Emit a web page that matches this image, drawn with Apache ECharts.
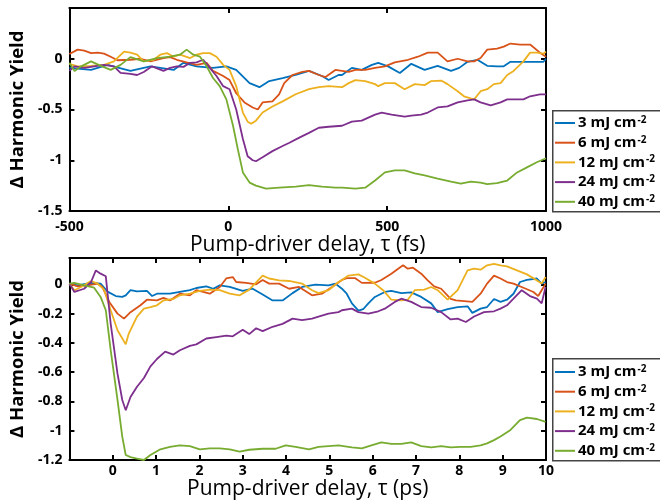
<!DOCTYPE html>
<html>
<head>
<meta charset="utf-8">
<script src="https://cdn.jsdelivr.net/npm/echarts@6/dist/echarts.min.js"></script>
<style>html,body{margin:0;padding:0;background:#fff}#c{width:660px;height:502px}</style>
</head>
<body>
<div id="c"></div>
<script>
// ---- Data ----
const seriesNames = ['3 mJ cm', '6 mJ cm', '12 mJ cm', '24 mJ cm', '40 mJ cm'];
const colors = ['#0072BD', '#D95319', '#EDB120', '#7E2F8E', '#77AC30'];
const fsTicks = [-500, 0, 500, 1000];
const psTicks = [0, 1, 2, 3, 4, 5, 6, 7, 8, 9, 10];

// Top panel: delay (fs), ΔYield
const fs3 = [[-500,-0.09],[-432,-0.11],[-380,-0.06],[-308,-0.12],[-245,-0.075],[-172,-0.11],[-141,-0.04],[-100,-0.075],[-48,-0.09],[-6,-0.075],[25,-0.11],[67,-0.24],[98,-0.28],[129,-0.22],[171,-0.19],[212,-0.16],[254,-0.12],[295,-0.17],[316,-0.21],[347,-0.16],[358,-0.16],[389,-0.09],[420,-0.11],[452,-0.06],[472,-0.04],[503,-0.075],[540,-0.14],[576,-0.05],[618,-0.11],[659,-0.07],[701,-0.12],[727,-0.09],[753,-0.03],[784,-0.01],[815,-0.07],[846,-0.075],[867,-0.075],[888,-0.03],[919,-0.03],[961,-0.03],[992,-0.03],[1000,0.0]];
const fs6 = [[-500,0.046],[-474,0.09],[-453,0.08],[-432,0.055],[-411,0.06],[-391,0.05],[-370,0.02],[-349,-0.015],[-308,-0.01],[-276,0.0],[-245,-0.026],[-204,0.007],[-183,0.016],[-162,-0.01],[-131,-0.036],[-100,-0.06],[-68,-0.04],[-48,-0.12],[-16,-0.17],[4,-0.21],[25,-0.34],[51,-0.43],[77,-0.48],[93,-0.5],[108,-0.43],[139,-0.42],[160,-0.35],[176,-0.24],[202,-0.16],[233,-0.13],[254,-0.12],[285,-0.16],[306,-0.18],[337,-0.11],[358,-0.12],[379,-0.13],[400,-0.11],[431,-0.11],[462,-0.09],[493,-0.075],[524,-0.036],[566,-0.01],[597,0.02],[628,0.06],[659,0.06],[690,-0.026],[722,0.0],[753,-0.026],[774,-0.026],[794,0.007],[815,0.09],[846,0.1],[867,0.12],[888,0.15],[919,0.14],[950,0.14],[981,0.06],[1000,0.02]];
const fs12 = [[-500,-0.05],[-474,-0.075],[-432,-0.07],[-391,-0.06],[-360,-0.026],[-328,0.07],[-308,0.06],[-287,0.04],[-266,-0.026],[-235,-0.01],[-214,0.04],[-193,0.055],[-172,0.02],[-152,0.04],[-120,0.007],[-100,0.04],[-79,0.055],[-58,0.055],[-37,0.02],[-16,-0.06],[4,-0.11],[25,-0.27],[46,-0.53],[61,-0.62],[72,-0.64],[87,-0.61],[108,-0.53],[139,-0.47],[171,-0.42],[212,-0.35],[254,-0.30],[285,-0.28],[316,-0.27],[358,-0.28],[379,-0.24],[400,-0.21],[431,-0.22],[462,-0.25],[472,-0.27],[493,-0.24],[524,-0.24],[545,-0.28],[555,-0.30],[587,-0.25],[618,-0.26],[639,-0.22],[670,-0.215],[690,-0.25],[722,-0.32],[742,-0.37],[763,-0.39],[774,-0.40],[794,-0.32],[815,-0.30],[836,-0.25],[857,-0.24],[878,-0.16],[898,-0.12],[929,-0.026],[950,0.06],[971,0.06],[992,0.05],[1000,0.07]];
const fs24 = [[-500,-0.12],[-484,-0.075],[-453,-0.09],[-422,-0.075],[-391,-0.06],[-360,-0.075],[-339,-0.14],[-308,-0.15],[-287,-0.16],[-266,-0.13],[-240,-0.075],[-204,-0.12],[-183,-0.09],[-162,-0.075],[-141,-0.08],[-120,-0.04],[-100,-0.036],[-79,-0.01],[-58,-0.09],[-37,-0.17],[-16,-0.27],[4,-0.30],[25,-0.5],[46,-0.79],[61,-0.96],[77,-1.0],[87,-1.01],[108,-0.97],[139,-0.91],[171,-0.86],[191,-0.83],[222,-0.78],[254,-0.73],[285,-0.68],[316,-0.67],[358,-0.66],[389,-0.62],[420,-0.61],[462,-0.55],[483,-0.53],[514,-0.55],[555,-0.57],[576,-0.56],[607,-0.55],[628,-0.53],[659,-0.48],[690,-0.47],[722,-0.43],[753,-0.41],[774,-0.40],[794,-0.43],[826,-0.46],[857,-0.43],[878,-0.40],[909,-0.40],[929,-0.40],[950,-0.37],[981,-0.35],[1000,-0.35]];
const fs40 = [[-500,-0.04],[-484,-0.12],[-463,-0.075],[-432,-0.026],[-401,-0.07],[-370,-0.11],[-339,-0.06],[-308,0.016],[-266,-0.026],[-224,0.007],[-183,0.02],[-152,0.04],[-131,0.09],[-110,0.04],[-89,0.02],[-68,-0.075],[-48,-0.19],[-27,-0.27],[-6,-0.40],[15,-0.66],[30,-0.89],[46,-1.12],[67,-1.22],[87,-1.25],[119,-1.28],[160,-1.27],[212,-1.26],[254,-1.245],[295,-1.26],[337,-1.27],[358,-1.27],[400,-1.28],[431,-1.27],[462,-1.20],[493,-1.12],[524,-1.10],[555,-1.10],[587,-1.13],[618,-1.15],[659,-1.18],[701,-1.21],[732,-1.23],[763,-1.21],[794,-1.22],[815,-1.235],[846,-1.225],[878,-1.20],[909,-1.12],[940,-1.07],[971,-1.02],[1000,-0.98]];

// Bottom panel: delay (ps), ΔYield
const ps3 = [[-1.0,0.005],[-0.81,-0.007],[-0.50,0.01],[-0.28,0.005],[-0.12,-0.05],[0.07,-0.08],[0.22,-0.086],[0.30,-0.075],[0.41,-0.04],[0.56,-0.048],[0.79,-0.045],[0.91,-0.08],[1.02,-0.064],[1.32,-0.064],[1.55,-0.052],[1.78,-0.04],[1.93,-0.025],[2.16,-0.014],[2.32,-0.03],[2.47,-0.007],[2.70,-0.018],[3.00,-0.045],[3.23,-0.03],[3.46,-0.07],[3.69,-0.11],[3.92,-0.11],[4.15,-0.06],[4.37,-0.018],[4.68,-0.002],[4.98,-0.007],[5.14,0.005],[5.29,-0.03],[5.40,-0.064],[5.52,-0.13],[5.67,-0.18],[5.78,-0.17],[5.90,-0.13],[6.05,-0.086],[6.28,-0.052],[6.43,-0.045],[6.66,-0.06],[6.89,-0.055],[7.12,-0.086],[7.35,-0.13],[7.50,-0.19],[7.73,-0.17],[7.96,-0.155],[8.19,-0.15],[8.30,-0.195],[8.49,-0.166],[8.64,-0.155],[8.80,-0.1],[8.95,-0.12],[9.10,-0.105],[9.25,-0.064],[9.40,0.016],[9.56,0.03],[9.79,0.04],[9.90,0.005],[9.99,0.016]];
const ps6 = [[-1.0,0.005],[-0.81,-0.014],[-0.58,-0.007],[-0.35,0.005],[-0.24,-0.018],[-0.08,-0.12],[0.11,-0.2],[0.26,-0.234],[0.41,-0.19],[0.64,-0.143],[0.79,-0.105],[1.02,-0.11],[1.17,-0.093],[1.32,-0.11],[1.55,-0.064],[1.78,-0.075],[1.93,-0.04],[2.24,-0.064],[2.47,-0.018],[2.62,0.04],[2.77,0.05],[2.85,0.016],[3.08,0.01],[3.31,0.0],[3.46,0.03],[3.61,0.005],[3.84,0.005],[4.07,-0.03],[4.30,-0.018],[4.60,-0.075],[4.83,-0.064],[5.06,-0.018],[5.29,0.03],[5.40,0.043],[5.59,0.043],[5.75,0.01],[6.05,0.011],[6.20,0.03],[6.43,0.073],[6.70,0.13],[6.81,0.107],[6.93,0.114],[7.12,0.073],[7.27,0.027],[7.42,-0.014],[7.58,-0.03],[7.80,-0.1],[7.92,-0.11],[8.11,-0.114],[8.30,-0.12],[8.49,-0.064],[8.64,0.005],[8.80,0.06],[8.95,0.04],[9.10,0.016],[9.25,0.005],[9.48,-0.023],[9.71,-0.052],[9.82,-0.08],[9.90,-0.04],[9.99,0.005]];
const ps12 = [[-1.0,0.005],[-0.885,-0.04],[-0.73,-0.018],[-0.50,0.023],[-0.35,0.005],[-0.20,-0.036],[-0.047,-0.177],[0.11,-0.314],[0.30,-0.41],[0.37,-0.336],[0.56,-0.22],[0.72,-0.166],[0.87,-0.155],[1.02,-0.143],[1.17,-0.11],[1.40,-0.1],[1.55,-0.075],[1.78,-0.064],[2.01,-0.045],[2.24,-0.036],[2.47,-0.04],[2.70,-0.064],[2.93,-0.075],[3.15,-0.036],[3.46,0.06],[3.61,0.04],[3.84,0.027],[4.07,0.023],[4.37,0.005],[4.60,-0.04],[4.75,-0.06],[4.98,-0.04],[5.21,0.016],[5.29,0.03],[5.44,0.06],[5.67,0.068],[5.82,0.045],[6.05,0.005],[6.24,-0.04],[6.43,-0.105],[6.66,-0.11],[6.81,-0.105],[6.97,-0.04],[7.19,-0.036],[7.35,-0.018],[7.50,-0.04],[7.73,-0.105],[7.96,-0.04],[8.19,0.095],[8.34,0.107],[8.49,0.1],[8.64,0.13],[8.80,0.14],[8.95,0.13],[9.10,0.123],[9.33,0.095],[9.56,0.068],[9.79,0.027],[9.90,0.005],[9.99,0.05]];
const ps24 = [[-1.0,0.005],[-0.885,-0.052],[-0.66,-0.03],[-0.50,0.016],[-0.39,0.095],[-0.28,0.073],[-0.16,0.055],[-0.047,-0.27],[0.11,-0.61],[0.22,-0.79],[0.30,-0.86],[0.41,-0.77],[0.56,-0.70],[0.72,-0.64],[0.87,-0.56],[1.02,-0.51],[1.21,-0.46],[1.40,-0.48],[1.55,-0.45],[1.78,-0.42],[1.93,-0.41],[2.16,-0.37],[2.39,-0.36],[2.62,-0.35],[2.77,-0.355],[3.00,-0.31],[3.15,-0.34],[3.31,-0.30],[3.46,-0.32],[3.69,-0.29],[3.92,-0.27],[4.15,-0.234],[4.37,-0.245],[4.60,-0.234],[4.75,-0.22],[4.98,-0.2],[5.21,-0.19],[5.29,-0.177],[5.52,-0.166],[5.67,-0.19],[5.90,-0.2],[6.13,-0.184],[6.28,-0.166],[6.51,-0.12],[6.66,-0.098],[6.89,-0.12],[7.12,-0.155],[7.35,-0.16],[7.58,-0.19],[7.80,-0.24],[7.96,-0.234],[8.15,-0.257],[8.34,-0.22],[8.57,-0.19],[8.80,-0.184],[8.95,-0.166],[9.10,-0.143],[9.25,-0.098],[9.44,-0.04],[9.63,-0.08],[9.79,-0.098],[9.90,-0.13],[9.99,-0.018]];
const ps40 = [[-1.0,0.005],[-0.885,0.01],[-0.66,-0.007],[-0.43,-0.023],[-0.28,-0.086],[-0.16,-0.177],[-0.047,-0.45],[0.11,-0.79],[0.22,-1.04],[0.30,-1.166],[0.41,-1.18],[0.56,-1.19],[0.72,-1.2],[0.87,-1.166],[1.10,-1.127],[1.32,-1.11],[1.55,-1.10],[1.78,-1.105],[2.01,-1.127],[2.24,-1.12],[2.47,-1.12],[2.70,-1.127],[2.93,-1.143],[3.15,-1.13],[3.46,-1.123],[3.76,-1.123],[3.99,-1.10],[4.22,-1.11],[4.53,-1.127],[4.75,-1.11],[4.98,-1.105],[5.21,-1.10],[5.52,-1.114],[5.75,-1.12],[5.97,-1.10],[6.20,-1.08],[6.43,-1.09],[6.66,-1.09],[6.89,-1.08],[7.12,-1.105],[7.35,-1.114],[7.58,-1.105],[7.80,-1.114],[8.03,-1.11],[8.26,-1.11],[8.49,-1.10],[8.64,-1.086],[8.80,-1.064],[8.95,-1.04],[9.18,-0.995],[9.40,-0.927],[9.56,-0.91],[9.79,-0.92],[9.99,-0.94]];

const topData = [fs3, fs6, fs12, fs24, fs40];
const botData = [ps3, ps6, ps12, ps24, ps40];

// ---- Chart ----
const FONT = 'Open Sans';
const lineBlack = { show: true, onZero: false, lineStyle: { color: '#000', width: 2 } };
const tick = { show: true, inside: true, length: 5, lineStyle: { color: '#000', width: 2 } };
const lbl = (extra) => Object.assign({ color: '#000', fontFamily: FONT, fontWeight: 'bold', fontSize: 14 }, extra);
const titleStyle = { color: '#000', fontFamily: FONT, fontSize: 21, fontWeight: 'normal' };
const yTitleStyle = { color: '#000', fontFamily: FONT, fontSize: 18.5, fontWeight: 'bold' };

function ax(grid, min, max, interval, pos, opts) {
  return Object.assign({
    gridIndex: grid, type: 'value', min, max, interval, position: pos,
    axisLine: lineBlack, axisTick: tick, splitLine: { show: false },
    axisLabel: { show: false }
  }, opts || {});
}

const series = [];
seriesNames.forEach((n, i) => {
  series.push({ name: n, type: 'line', xAxisIndex: 0, yAxisIndex: 0, data: topData[i],
    symbol: 'none', showSymbol: false, lineStyle: { color: colors[i], width: 1.8 }, itemStyle: { color: colors[i] }, z: 2 + i });
});
seriesNames.forEach((n, i) => {
  series.push({ name: n, type: 'line', xAxisIndex: 2, yAxisIndex: 2, data: botData[i],
    symbol: 'none', showSymbol: false, lineStyle: { color: colors[i], width: 1.8 }, itemStyle: { color: colors[i] }, z: 2 + i });
});

const legendCommon = {
  orient: 'vertical', data: seriesNames, icon: 'rect', itemWidth: 20, itemHeight: 2,
  itemGap: 3.7, padding: [3, 2, 3, 3], backgroundColor: 'transparent', borderWidth: 0,
  selectedMode: false, z: 10,
  formatter: (n) => '{a|' + n + '}{s|-2}',
  textStyle: {
    padding: [0, 0, 0, -2],
    rich: {
      a: { fontFamily: FONT, fontWeight: 'bold', fontSize: 15, color: '#000', lineHeight: 16 },
      s: { fontFamily: FONT, fontWeight: 'bold', fontSize: 10, color: '#000', verticalAlign: 'top', lineHeight: 16, padding: [0, 0, 6, 1] }
    }
  }
};

const option = {
  backgroundColor: '#fff',
  animation: false,
  graphic: [
    { type: 'rect', left: 552, top: 110, z: 1, shape: { width: 130, height: 101 }, style: { fill: '#fff', stroke: '#444', lineWidth: 1.5 } },
    { type: 'rect', left: 552, top: 358, z: 1, shape: { width: 130, height: 102 }, style: { fill: '#fff', stroke: '#444', lineWidth: 1.5 } }
  ],
  grid: [
    { left: 65, top: 8, width: 481, height: 203 },
    { left: 65, top: 258, width: 481, height: 202 }
  ],
  xAxis: [
    ax(0, fsTicks[0], fsTicks[fsTicks.length - 1], 500, 'bottom', {
      axisLabel: lbl({ margin: 9, formatter: (v) => fsTicks.indexOf(v) >= 0 ? String(v) : '' }),
      name: 'Pump-driver delay, \u03c4 (fs)', nameLocation: 'middle', nameGap: 18, nameTextStyle: titleStyle
    }),
    ax(0, fsTicks[0], fsTicks[fsTicks.length - 1], 500, 'top'),
    ax(1, -1, psTicks[psTicks.length - 1], 1, 'bottom', {
      axisLabel: lbl({ margin: 4, formatter: (v) => (psTicks.indexOf(Math.round(v)) >= 0 && Math.abs(v - Math.round(v)) < 1e-6) ? String(Math.round(v)) : '' }),
      name: 'Pump-driver delay, \u03c4 (ps)', nameLocation: 'middle', nameGap: 17, nameTextStyle: titleStyle
    }),
    ax(1, -1, psTicks[psTicks.length - 1], 1, 'top')
  ],
  yAxis: [
    ax(0, -1.5, 0.5, 0.5, 'left', {
      axisLabel: lbl({ margin: 7, formatter: (v) => v > 0.01 ? '' : String(+v.toFixed(1)) }),
      name: '\u0394 Harmonic Yield', nameLocation: 'middle', nameRotate: 90, nameGap: 28, nameTextStyle: yTitleStyle
    }),
    ax(0, -1.5, 0.5, 0.5, 'right'),
    ax(1, -1.2, 0.18, 0.2, 'left', {
      axisLabel: lbl({ margin: 7, formatter: (v) => v > 0.01 ? '' : String(+v.toFixed(1)) }),
      name: '\u0394 Harmonic Yield', nameLocation: 'middle', nameRotate: 90, nameGap: 28, nameTextStyle: yTitleStyle
    }),
    ax(1, -1.2, 0.18, 0.2, 'right')
  ],
  legend: [
    Object.assign({}, legendCommon, { left: 552, top: 112 }),
    Object.assign({}, legendCommon, { left: 552, top: 361 })
  ],
  series
};

const chart = echarts.init(document.getElementById('c'), null, { renderer: 'canvas' });
chart.setOption(option);
</script>
</body>
</html>
